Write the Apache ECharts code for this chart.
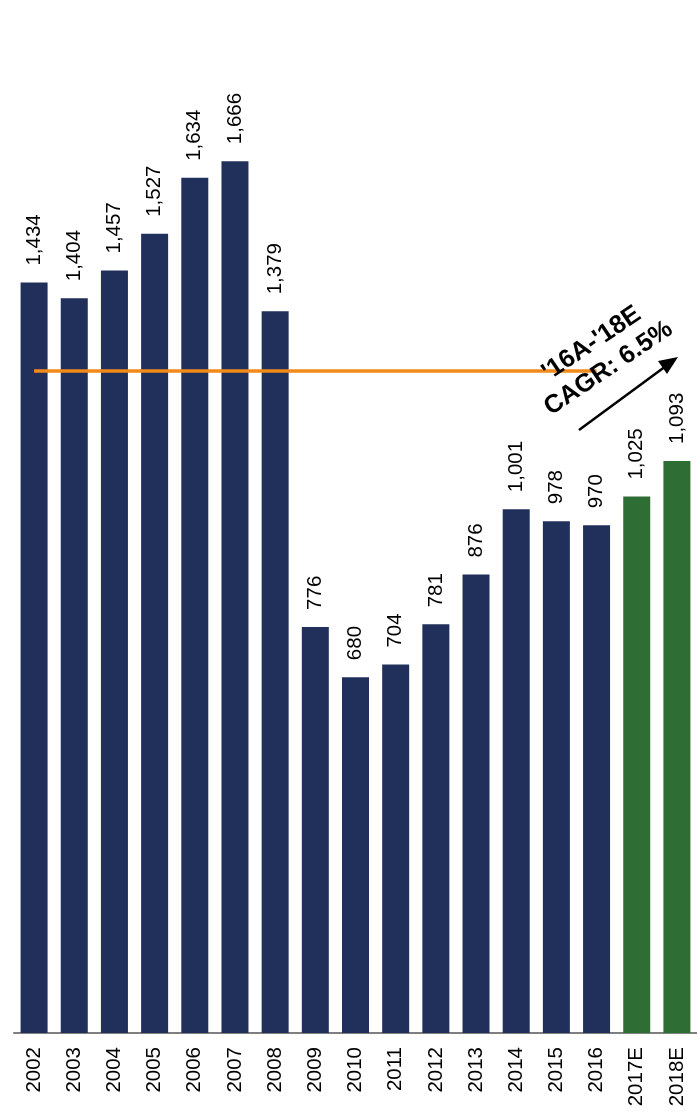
<!DOCTYPE html>
<html>
<head>
<meta charset="utf-8">
<style>
  html, body { margin: 0; padding: 0; background: #ffffff; }
  #chart { width: 697px; height: 1111px; }
</style>
<script src="https://cdn.jsdelivr.net/npm/echarts@6/dist/echarts.min.js"></script>
</head>
<body>
<div id="chart"></div>
<script>
// Yearly volume, actuals 2002-2016 and estimates 2017E-2018E
const years = ['2002', '2003', '2004', '2005', '2006', '2007', '2008', '2009', '2010',
  '2011', '2012', '2013', '2014', '2015', '2016', '2017E', '2018E'];
const volumes = [1434, 1404, 1457, 1527, 1634, 1666, 1379, 776, 680,
  704, 781, 876, 1001, 978, 970, 1025, 1093];
const estimateYears = ['2017E', '2018E'];
const referenceLevel = 1266;
const cagrLines = ["'16A-'18E", 'CAGR: 6.5%'];

const NAVY = '#21305a';
const GREEN = '#2e6e35';
const ORANGE = '#f28a1a';
const FONT = "'Liberation Sans', Arial, sans-serif";

const chart = echarts.init(document.getElementById('chart'), null, { renderer: 'canvas' });

const barData = years.map((y, i) => ({
  value: volumes[i],
  itemStyle: { color: estimateYears.includes(y) ? GREEN : NAVY }
}));

chart.setOption({
  animation: false,
  backgroundColor: '#ffffff',
  grid: { left: 14, right: -6, top: 91, bottom: 78, containLabel: false },
  xAxis: {
    type: 'category',
    data: years,
    axisLine: { show: true, lineStyle: { color: '#7f7f7f', width: 2 } },
    axisTick: { show: false },
    axisLabel: {
      rotate: 90,
      margin: 14,
      fontFamily: FONT,
      fontSize: 20.5,
      color: '#000000',
      interval: 0
    }
  },
  yAxis: {
    type: 'value',
    min: 0,
    max: 1800,
    show: false,
    splitLine: { show: false }
  },
  series: [{
    type: 'bar',
    data: barData,
    barWidth: 27,
    label: {
      show: true,
      position: 'top',
      rotate: 90,
      align: 'left',
      verticalAlign: 'middle',
      distance: 17,
      fontFamily: FONT,
      fontSize: 20.5,
      color: '#000000',
      formatter: p => p.value.toLocaleString('en-US')
    },
    markLine: {
      silent: true,
      symbol: ['none', 'none'],
      label: { show: false },
      lineStyle: { color: ORANGE, width: 3.5, type: 'solid', opacity: 1 },
      data: [[
        { xAxis: '2002', yAxis: referenceLevel },
        { xAxis: '2016', yAxis: referenceLevel }
      ]]
    }
  }],
  graphic: [
    {
      type: 'text',
      x: 600,
      y: 356,
      rotation: 34 * Math.PI / 180,
      z: 100,
      style: {
        text: cagrLines.join('\n'),
        fontFamily: FONT,
        fontWeight: 'bold',
        fontSize: 25.5,
        lineHeight: 30,
        fill: '#000000',
        align: 'center',
        verticalAlign: 'middle'
      }
    },
    {
      type: 'line',
      z: 100,
      shape: { x1: 579, y1: 430, x2: 666, y2: 366 },
      style: { stroke: '#000000', lineWidth: 2.5 }
    },
    {
      type: 'polygon',
      z: 100,
      shape: { points: [[678, 357], [658, 361], [667, 374]] },
      style: { fill: '#000000' }
    }
  ]
});
</script>
</body>
</html>
